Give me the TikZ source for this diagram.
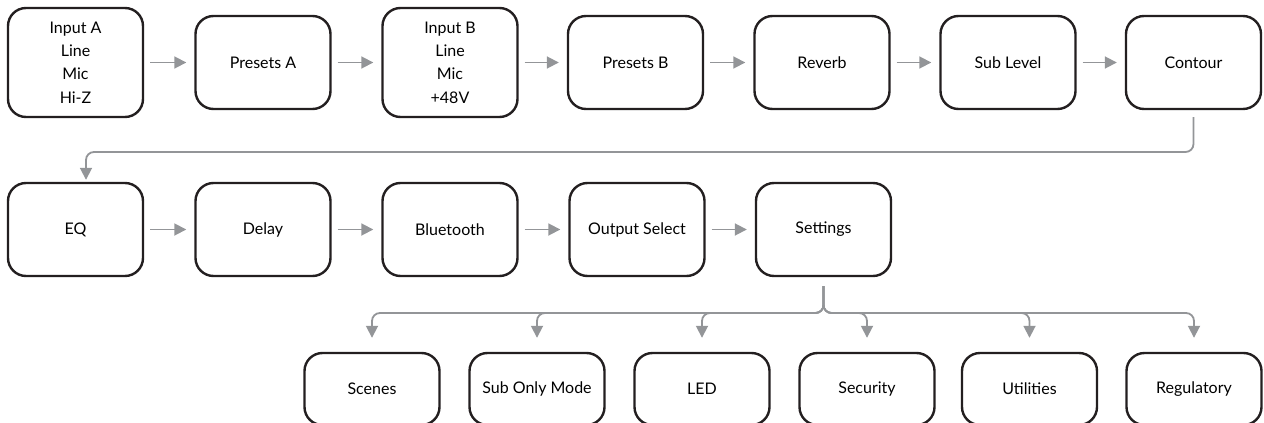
\documentclass[tikz,border=0pt]{standalone}
\usepackage{fontspec}
\setmainfont{Lato}
\usetikzlibrary{arrows.meta}
\definecolor{linkgray}{HTML}{939598}
\definecolor{boxblack}{HTML}{231F20}
\begin{document}
\begin{tikzpicture}[x=0.5pt,y=-0.5pt,
        stage/.style={draw=boxblack,line width=1.2pt,rounded corners=9pt,minimum width=67.5pt,minimum height=46.5pt,
            align=center,inner sep=0pt,font=\fontsize{8}{11.7}\selectfont},
        tallstage/.style={stage,minimum height=54.5pt},
        option/.style={stage,minimum height=36pt},
        link/.style={draw=linkgray,line width=0.9pt,-{Triangle[length=6pt,width=6pt]}},
        step link/.style={link,shorten <=3pt,shorten >=4pt}]

                    \useasboundingbox (0,0) rectangle (1264,423);

                    % main chain
                    \node (inA) at (75.5,62.5) [tallstage] {Input A\\Line\\Mic\\Hi-Z};
                    \node (presA) at (263,62.5) [stage] {Presets A};
                    \node (inB) at (450,62.5) [tallstage] {Input B\\Line\\Mic\\+48V};
                    \node (presB) at (635.5,62.5) [stage] {Presets B};
                    \node (reverb) at (822,62.5) [stage] {Reverb};
                    \node (sublevel) at (1008,62.5) [stage] {Sub Level};
                    \node (contour) at (1193.5,62.5) [stage] {Contour};

                    \node (eq) at (75.5,229.5) [stage] {EQ};
                    \node (delay) at (263,229.5) [stage] {Delay};
                    \node (bluetooth) at (450,229.5) [stage] {Bluetooth};
                    \node (outsel) at (637,229.5) [stage] {Output Select};
                    \node (settings) at (823.5,229.5) [stage] {Settings};

                    % settings menu
                    \node (scenes) at (372,389) [option] {Scenes};
                    \node (subonly) at (537,389) [option] {Sub Only Mode};
                    \node (led) at (702,389) [option] {LED};
                    \node (security) at (867,389) [option] {Security};
                    \node (utilities) at (1029.5,389) [option] {Utilities};
                    \node (regulatory) at (1194,389) [option] {Regulatory};

                    \draw[step link] (inA) -- (presA);
                    \draw[step link] (presA) -- (inB);
                    \draw[step link] (inB) -- (presB);
                    \draw[step link] (presB) -- (reverb);
                    \draw[step link] (reverb) -- (sublevel);
                    \draw[step link] (sublevel) -- (contour);
                    \draw[step link] (eq) -- (delay);
                    \draw[step link] (delay) -- (bluetooth);
                    \draw[step link] (bluetooth) -- (outsel);
                    \draw[step link] (outsel) -- (settings);

                    \coordinate (wrap) at (86,152);
                    \draw[link,rounded corners=4pt,shorten <=3.5pt,shorten >=1pt]
                        (contour.south) |- (wrap) -- (wrap |- eq.north);

                    \coordinate (bus) at (0,313);
                    \coordinate (hub) at (settings.south |- bus);
                    \foreach \item in {scenes,subonly,led,security,utilities,regulatory}
                        \draw[link,rounded corners=4pt,shorten <=4.5pt,shorten >=7pt]
                            (settings.south) -- (hub) -| (\item.north);
                \end{tikzpicture}
\end{document}
